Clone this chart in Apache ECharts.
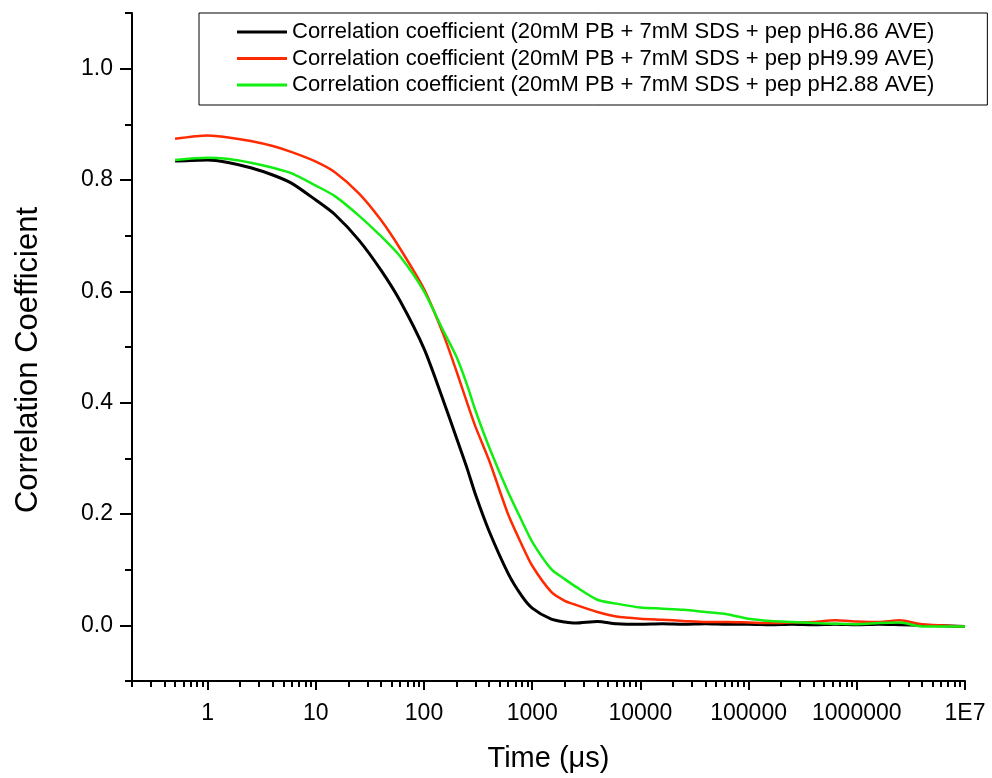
<!DOCTYPE html>
<html>
<head>
<meta charset="utf-8">
<script src="https://cdn.jsdelivr.net/npm/echarts@6/dist/echarts.min.js"></script>
<style>
html,body{margin:0;padding:0;background:#fff;}
#chart{width:992px;height:778px;}
</style>
</head>
<body>
<div id="chart"></div>
<script>
// ---- data ----
const timeUs = [0.5,1,1.5,2.5,4,6,10,15,25,40,
  60,100,150,200,250,300,400,600,800,1000,
  1500,2000,2500,4000,6000,1e4,1.6e4,2.5e4,4e4,6.3e4,
  1e5,1.6e5,2.5e5,4e5,6.3e5,1e6,1.6e6,2.5e6,4e6,1e7];

const ccPH686 = [0.834,0.836,0.832,0.822,0.809,0.794,0.764,0.738,0.692,0.638,
  0.583,0.497,0.405,0.336,0.282,0.234,0.169,0.093,0.053,0.031,
  0.011,0.006,0.004,0.007,0.003,0.002,0.003,0.002,0.003,0.002,
  0.002,0.001,0.002,0.001,0.002,0.001,0.002,0.001,0.000,-0.002];

const ccPH999 = [0.874,0.880,0.877,0.870,0.861,0.850,0.833,0.814,0.776,0.728,
  0.677,0.604,0.524,0.456,0.400,0.356,0.296,0.199,0.145,0.107,
  0.060,0.044,0.037,0.024,0.016,0.012,0.010,0.008,0.006,0.006,
  0.005,0.004,0.005,0.006,0.009,0.007,0.006,0.009,0.002,-0.002];

const ccPH288 = [0.836,0.840,0.838,0.831,0.822,0.812,0.790,0.771,0.736,0.699,
  0.663,0.600,0.530,0.482,0.432,0.385,0.320,0.239,0.188,0.150,
  0.101,0.083,0.070,0.046,0.039,0.032,0.030,0.028,0.024,0.020,
  0.012,0.008,0.006,0.004,0.003,0.002,0.004,0.005,-0.002,-0.002];

const seriesNames = [
  'Correlation coefficient (20mM PB + 7mM SDS + pep pH6.86 AVE)',
  'Correlation coefficient (20mM PB + 7mM SDS + pep pH9.99 AVE)',
  'Correlation coefficient (20mM PB + 7mM SDS + pep pH2.88 AVE)'
];
const seriesColors = ['#000000', '#ff2a00', '#11ee11'];

const xTickValues = [1,10,100,1000,10000,100000,1000000,10000000];
const xTickLabels = ['1','10','100','1000','10000','100000','1000000','1E7'];
const yTickValues = [0,0.2,0.4,0.6,0.8,1.0];
const yTickLabels = ['0.0','0.2','0.4','0.6','0.8','1.0'];
const yMinorValues = [-0.1,0.1,0.3,0.5,0.7,0.9,1.1];

// minor log ticks 2..9 per decade
const xMinorValues = [];
for (let e = -1; e <= 6; e++) {
  for (let k = 2; k <= 9; k++) {
    const v = k * Math.pow(10, e);
    if (v >= 0.2 && v <= 1e7) xMinorValues.push(+v.toPrecision(3));
  }
}

const FONT = 'Liberation Sans, Arial, sans-serif';
const chart = echarts.init(document.getElementById('chart'));

function pairs(vals) { return timeUs.map((t, i) => [t, vals[i]]); }
const allVals = [ccPH686, ccPH999, ccPH288];

const xBase = {
  type: 'log', logBase: 10, min: 0.2, max: 1e7, gridIndex: 0, position: 'bottom',
  splitLine: {show: false}, minorTick: {show: false}, minorSplitLine: {show: false}
};
const yBase = {
  type: 'value', min: -0.1, max: 1.1, gridIndex: 0, position: 'left',
  splitLine: {show: false}
};

chart.setOption({
  animation: false,
  backgroundColor: '#ffffff',
  grid: {left: 132, right: 27, top: 13, bottom: 97, containLabel: false},
  legend: {
    orient: 'vertical', left: 199, top: 13,
    padding: [8, 53, 9, 38],
    backgroundColor: '#ffffff', borderColor: '#000', borderWidth: 1,
    icon: 'rect', itemWidth: 50, itemHeight: 3, itemGap: 4.5,
    textStyle: {fontFamily: FONT, fontSize: 22, color: '#000', lineHeight: 22},
    data: seriesNames
  },
  xAxis: [
    Object.assign({}, xBase, {
      name: 'Time (\u03bcs)', nameLocation: 'middle', nameGap: 63,
      nameTextStyle: {fontFamily: FONT, fontSize: 29, color: '#000'},
      axisLine: {show: true, onZero: false, lineStyle: {color: '#000', width: 2}},
      axisTick: {show: true, customValues: xTickValues, length: 9, lineStyle: {color: '#000', width: 2}},
      axisLabel: {show: true, customValues: xTickValues, margin: 21,
        fontFamily: FONT, fontSize: 23, color: '#000',
        formatter: function (v) {
          const i = xTickValues.findIndex(t => Math.abs(Math.log10(t) - Math.log10(v)) < 1e-6);
          return i >= 0 ? xTickLabels[i] : '';
        }}
    }),
    Object.assign({}, xBase, {
      axisLine: {show: false, onZero: false},
      axisTick: {show: true, customValues: xMinorValues, length: 6, lineStyle: {color: '#000', width: 2}},
      axisLabel: {show: false}
    })
  ],
  yAxis: [
    Object.assign({}, yBase, {
      name: 'Correlation Coefficient', nameLocation: 'middle', nameGap: 88, nameRotate: 90,
      nameTextStyle: {fontFamily: FONT, fontSize: 31, color: '#000', padding: [0, 26, 0, 0]},
      axisLine: {show: true, onZero: false, lineStyle: {color: '#000', width: 2}},
      axisTick: {show: true, customValues: yTickValues, length: 12, lineStyle: {color: '#000', width: 2}},
      axisLabel: {show: true, customValues: yTickValues, margin: 19,
        fontFamily: FONT, fontSize: 23, color: '#000',
        formatter: function (v) {
          const i = yTickValues.findIndex(t => Math.abs(t - v) < 1e-6);
          return i >= 0 ? yTickLabels[i] : '';
        }}
    }),
    Object.assign({}, yBase, {
      axisLine: {show: false, onZero: false},
      axisTick: {show: true, customValues: yMinorValues, length: 7, lineStyle: {color: '#000', width: 2}},
      axisLabel: {show: false}
    })
  ],
  series: seriesNames.map((name, i) => ({
    name: name, type: 'line', xAxisIndex: 0, yAxisIndex: 0,
    data: pairs(allVals[i]),
    showSymbol: false, symbol: 'none', smooth: 0.25,
    color: seriesColors[i],
    lineStyle: {color: seriesColors[i], width: i === 0 ? 3 : 2.5},
    z: 2 + i
  }))
});
</script>
</body>
</html>
